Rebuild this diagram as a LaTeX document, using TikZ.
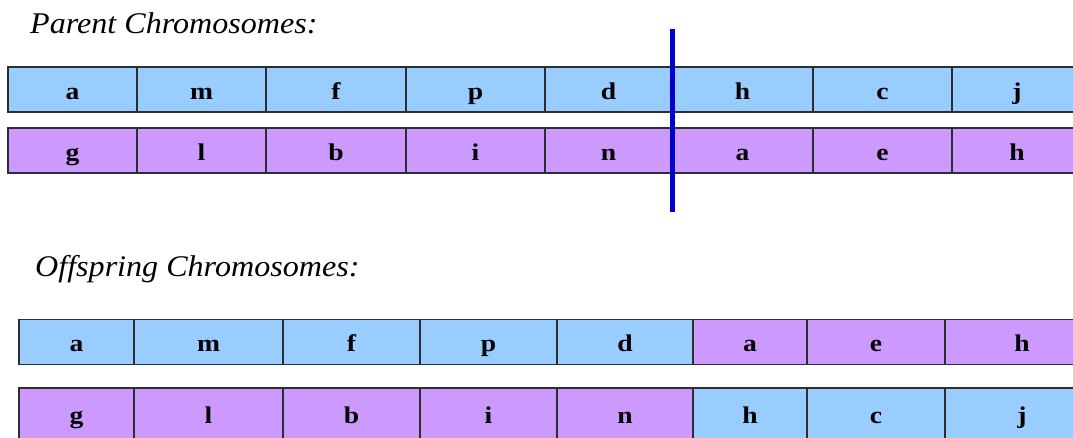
\documentclass[tikz,border=0pt]{standalone}
\usepackage{fontspec}
\usepackage{xcolor}
\usepackage{tikz}
\newfontfamily\genefont[FakeStretch=1.15]{Liberation Serif}
\newfontfamily\titlefont[FakeStretch=1.07]{Liberation Serif}

\definecolor{geneblue}{RGB}{153,204,255}
\definecolor{genepurple}{RGB}{204,153,255}
\definecolor{cutblue}{RGB}{0,0,205}
\definecolor{cellline}{RGB}{45,45,50}

\tikzset{
  gene/.style={draw=cellline, line width=1.4pt, rectangle, inner sep=0pt,
    minimum height=45, text height=19, text depth=0,
    font=\genefont\bfseries\fontsize{24}{24}\selectfont},
  title/.style={anchor=base west, inner sep=0pt,
    font=\titlefont\itshape\fontsize{30}{36}\selectfont},
  cut/.style={draw=cutblue, line width=5pt}
}

\begin{document}
\begin{tikzpicture}[x=1pt, y=-1pt] % pixel grid, y downwards
    \useasboundingbox (0,0) rectangle (1073,437);
    \clip (0,0) rectangle (1073,437);

    % Titles
    \node[title] (parenttitle) at (30,33) {Parent Chromosomes:};
    \node[title] (childtitle) at (35,276) {Offspring Chromosomes:};

    % Parent 1
    \node[gene, fill=geneblue, minimum width=129] (pa1) at (72.5,89.5) {a};
    \node[gene, fill=geneblue, minimum width=129] (pa2) at (201.5,89.5) {m};
    \node[gene, fill=geneblue, minimum width=140] (pa3) at (336,89.5) {f};
    \node[gene, fill=geneblue, minimum width=139] (pa4) at (475.5,89.5) {p};
    \node[gene, fill=geneblue, minimum width=127] (pa5) at (608.5,89.5) {d};
    \node[gene, fill=geneblue, minimum width=141] (pa6) at (742.5,89.5) {h};
    \node[gene, fill=geneblue, minimum width=139] (pa7) at (882.5,89.5) {c};
    \node[gene, fill=geneblue, minimum width=130] (pa8) at (1017,89.5) {j};

    % Parent 2
    \node[gene, fill=genepurple, minimum width=129] (pb1) at (72.5,150.5) {g};
    \node[gene, fill=genepurple, minimum width=129] (pb2) at (201.5,150.5) {l};
    \node[gene, fill=genepurple, minimum width=140] (pb3) at (336,150.5) {b};
    \node[gene, fill=genepurple, minimum width=139] (pb4) at (475.5,150.5) {i};
    \node[gene, fill=genepurple, minimum width=127] (pb5) at (608.5,150.5) {n};
    \node[gene, fill=genepurple, minimum width=141] (pb6) at (742.5,150.5) {a};
    \node[gene, fill=genepurple, minimum width=139] (pb7) at (882.5,150.5) {e};
    \node[gene, fill=genepurple, minimum width=130] (pb8) at (1017,150.5) {h};

    % Crossover point
    \coordinate (cuttop) at (672.5,29);
    \coordinate (cutbot) at (672.5,212);
    \draw[cut] (cuttop) -- (cutbot);

    % Offspring 1
    \node[gene, fill=geneblue, minimum width=115] (ca1) at (76.5,342) {a};
    \node[gene, fill=geneblue, minimum width=149] (ca2) at (208.5,342) {m};
    \node[gene, fill=geneblue, minimum width=137] (ca3) at (351.5,342) {f};
    \node[gene, fill=geneblue, minimum width=137] (ca4) at (488.5,342) {p};
    \node[gene, fill=geneblue, minimum width=136] (ca5) at (625,342) {d};
    \node[gene, fill=genepurple, minimum width=114] (ca6) at (750,342) {a};
    \node[gene, fill=genepurple, minimum width=138] (ca7) at (876,342) {e};
    \node[gene, fill=genepurple, minimum width=154] (ca8) at (1022,342) {h};

    % Offspring 2
    \node[gene, fill=genepurple, minimum width=115, minimum height=52] (cb1) at (76.5,414) {g};
    \node[gene, fill=genepurple, minimum width=149, minimum height=52] (cb2) at (208.5,414) {l};
    \node[gene, fill=genepurple, minimum width=137, minimum height=52] (cb3) at (351.5,414) {b};
    \node[gene, fill=genepurple, minimum width=137, minimum height=52] (cb4) at (488.5,414) {i};
    \node[gene, fill=genepurple, minimum width=136, minimum height=52] (cb5) at (625,414) {n};
    \node[gene, fill=geneblue, minimum width=114, minimum height=52] (cb6) at (750,414) {h};
    \node[gene, fill=geneblue, minimum width=138, minimum height=52] (cb7) at (876,414) {c};
    \node[gene, fill=geneblue, minimum width=154, minimum height=52] (cb8) at (1022,414) {j};
\end{tikzpicture}
\end{document}
